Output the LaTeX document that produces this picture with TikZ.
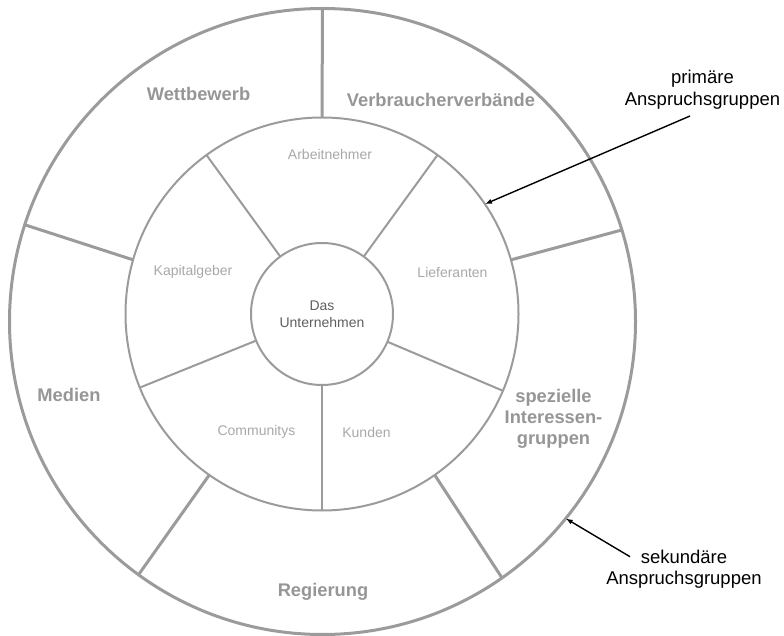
\documentclass[tikz,border=0pt]{standalone}
\usepackage{fontspec}
\setmainfont{Liberation Sans}
\usetikzlibrary{arrows.meta}
\definecolor{ringgray}{RGB}{155,155,155}
\definecolor{labelgray}{RGB}{150,150,150}
\definecolor{softgray}{RGB}{168,168,168}
\definecolor{coregray}{RGB}{95,95,95}
\begin{document}
\begin{tikzpicture}[x=1pt,y=1pt,
  ring/.style={circle, draw=ringgray, inner sep=0pt, outer sep=0pt},
  thindiv/.style={draw=ringgray, line width=2pt},
  thickdiv/.style={draw=ringgray, line width=3pt},
  grouplabel/.style={text=labelgray, font=\bfseries\fontsize{18.3}{21}\selectfont, align=center, inner sep=0pt},
  stakelabel/.style={text=softgray, font=\fontsize{14}{17}\selectfont, inner sep=0pt},
  notelabel/.style={text=black, font=\fontsize{18.5}{21.5}\selectfont, align=center, inner sep=0pt},
  pointer/.style={draw=black, line width=1.4pt, -{Latex[length=7pt,width=5pt]}}]
\useasboundingbox (0,0) rectangle (784,635);

% three rings: secondary groups, primary groups, the company
\node[ring, line width=3pt, minimum size=626pt] (outer) at (322.5,313.5) {};
\node[ring, line width=2pt, minimum size=393pt] (middle) at (322,321) {};
\node[ring, line width=2pt, minimum size=142pt, text=coregray,
      font=\fontsize{14}{17}\selectfont, align=center] (core) at (322,321) {Das\\Unternehmen};

% sector borders of the primary ring
\draw[thindiv] (core.54) -- (middle.54);
\draw[thindiv] (core.126) -- (middle.126);
\draw[thindiv] (core.202.5) -- (middle.202.5);
\draw[thindiv] (core.270) -- (middle.270);
\draw[thindiv] (core.337.5) -- (middle.337.5);

% sector borders of the secondary ring
\draw[thickdiv] (middle.90) -- (outer.90);
\draw[thickdiv] (middle.164.4) -- (outer.162.1);
\draw[thickdiv] (middle.16.1) -- (outer.17.6);
\draw[thickdiv] (middle.235.7) -- (outer.234.1);
\draw[thickdiv] (middle.305.4) -- (outer.305.9);

% primary stakeholders
\node[stakelabel] (arb) at (330,481) {Arbeitnehmer};
\node[stakelabel] (kap) at (193,363) {Kapitalgeber};
\node[stakelabel] (lief) at (452.5,363) {Lieferanten};
\node[stakelabel] (comm) at (256.5,203) {Communitys};
\node[stakelabel] (kund) at (366.5,203) {Kunden};

% secondary stakeholders
\node[grouplabel] (wett) at (198.5,541) {Wettbewerb};
\node[grouplabel] (verb) at (441,535) {Verbraucherverbände};
\node[grouplabel] (med) at (69,240) {Medien};
\node[grouplabel] (reg) at (323,43) {Regierung};
\node[grouplabel] (spez) at (553.5,216) {spezielle\\Interessen-\\gruppen};

% annotations
\node[notelabel] (prim) at (702.5,545.5) {primäre\\Anspruchsgruppen};
\node[notelabel] (sek) at (684,66) {sekundäre\\Anspruchsgruppen};
\coordinate (primstart) at (690,519);
\coordinate (sekstart) at (630,78.3);
\draw[pointer] (primstart) -- (middle.34.6);
\draw[pointer] (sekstart) -- (outer.-39.5);
\end{tikzpicture}
\end{document}
